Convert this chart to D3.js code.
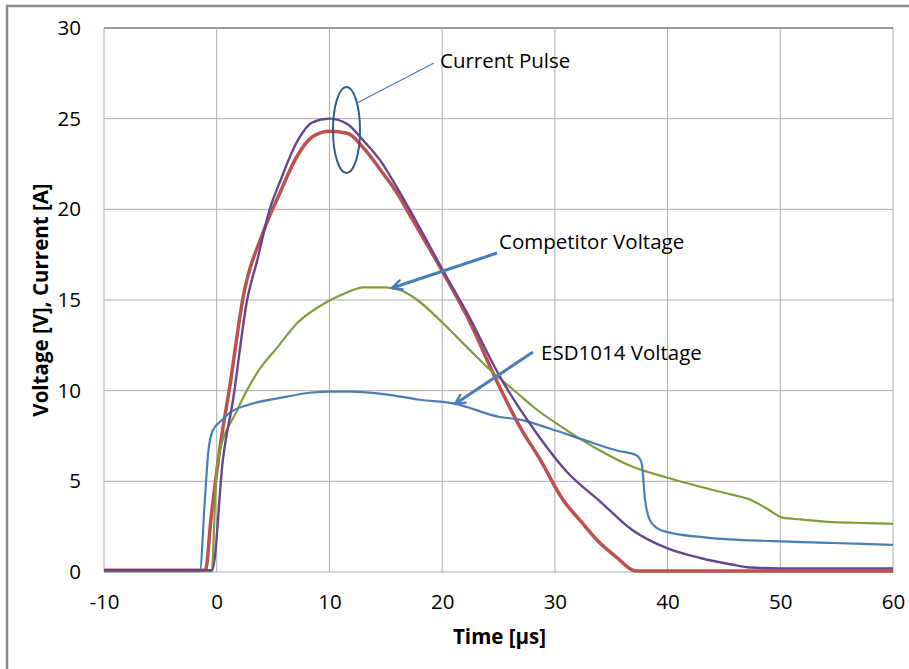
<!DOCTYPE html>
<html>
<head>
<meta charset="utf-8">
<script src="https://cdn.jsdelivr.net/npm/d3@7/dist/d3.min.js"></script>
<style>
  body { margin: 0; background: #fff; }
  svg { display: block; font-family: "Open Sans", sans-serif; }
</style>
</head>
<body>
<svg id="chart" width="909" height="669"></svg>
<script>
// values (time in µs, value in V or A)
const xTicks = [-10, 0, 10, 20, 30, 40, 50, 60];
const yTicks = [0, 5, 10, 15, 20, 25, 30];

const esdTime = [-10, -1.5, -1.05, -0.75, -0.35, 0.5, 1.2, 2.7, 5.6, 8.5, 10, 12, 15, 18, 21, 25.1, 26.9, 29.6, 32.5, 35.5, 37.2, 37.7, 38.0, 38.4, 39, 40, 43.5, 49.4, 54.7, 60];
const esdVolt = [0.05, 0.05, 4.0, 6.6, 7.8, 8.4, 8.8, 9.2, 9.6, 9.9, 9.95, 9.95, 9.8, 9.5, 9.3, 8.55, 8.4, 7.9, 7.3, 6.7, 6.45, 6.0, 4.0, 2.9, 2.45, 2.2, 1.9, 1.7, 1.6, 1.5];

const compTime = [-10, -0.45, 0.0, 0.1, 1.8, 3.6, 5.4, 7.1, 9.8, 11.5, 13, 15, 16.5, 17.8, 20.1, 22.2, 24.5, 26.6, 28.1, 31.1, 34, 36.9, 40, 42.9, 45.8, 47.3, 48.8, 50.2, 51.8, 54.7, 57.7, 60];
const compVolt = [0.05, 0.05, 5.8, 6.2, 8.9, 11.0, 12.4, 13.7, 14.9, 15.4, 15.7, 15.7, 15.5, 15.0, 13.7, 12.4, 11.0, 9.9, 9.1, 7.8, 6.7, 5.8, 5.2, 4.7, 4.25, 4.0, 3.5, 3.0, 2.9, 2.75, 2.7, 2.65];

const curATime = [-10, -1.0, -0.5, 0.3, 1.2, 2.3, 4.1, 5.6, 7.1, 8.5, 10, 11.6, 13, 14.5, 16, 17.4, 20.1, 22.2, 25.1, 26.9, 28.7, 30.7, 32.3, 34, 35.5, 36.9, 37.3, 60];
const curAVal = [0.1, 0.1, 3.0, 6.9, 10.4, 15.0, 18.7, 20.9, 22.9, 24.0, 24.3, 24.2, 23.4, 22.2, 20.9, 19.4, 16.5, 14.1, 10.2, 8.0, 6.2, 4.0, 2.8, 1.6, 0.8, 0.1, 0.05, 0.05];

const curBTime = [-10, -0.4, 0.55, 1.45, 2.7, 3.6, 4.7, 5.6, 7.1, 8.5, 10, 11.6, 13, 14.5, 16, 18, 20.1, 22.2, 25.1, 28.1, 31.1, 34, 36.9, 40, 42.9, 45.8, 47.3, 50, 55, 60];
const curBVal = [0.1, 0.1, 6.2, 9.5, 15.0, 17.2, 20.0, 21.5, 23.7, 24.8, 25.0, 24.7, 23.8, 22.7, 21.2, 19.0, 16.6, 14.3, 10.8, 7.9, 5.5, 3.9, 2.3, 1.3, 0.77, 0.4, 0.25, 0.2, 0.2, 0.2];

const svg = d3.select('#chart');

// outer chart border
svg.append('rect')
  .attr('x', 7).attr('y', 6).attr('width', 930).attr('height', 700)
  .attr('fill', 'none').attr('stroke', '#8c8c8c').attr('stroke-width', 2.5);

const margin = { top: 28, right: 16, bottom: 97, left: 104 };
const width = 909, height = 669;

const x = d3.scaleLinear().domain([-10, 60]).range([margin.left, width - margin.right]);
const y = d3.scaleLinear().domain([0, 30]).range([height - margin.bottom, margin.top]);

// gridlines
svg.append('g')
  .selectAll('line')
  .data(yTicks)
  .join('line')
  .attr('x1', x(-10)).attr('x2', x(60))
  .attr('y1', d => y(d)).attr('y2', d => y(d))
  .attr('stroke', d => d === 30 ? '#7a7a7a' : '#ababab')
  .attr('stroke-width', d => d === 30 ? 1.5 : 1);

svg.append('g')
  .selectAll('line')
  .data(xTicks)
  .join('line')
  .attr('x1', d => x(d)).attr('x2', d => x(d))
  .attr('y1', y(0)).attr('y2', y(30))
  .attr('stroke', '#ababab');

// axes labels (Excel style, no tick marks)
const xAxis = svg.append('g')
  .attr('transform', `translate(0,${y(0)})`)
  .call(d3.axisBottom(x).tickValues(xTicks).tickSize(0).tickPadding(22).tickFormat(d => String(d)));
xAxis.select('.domain').remove();
xAxis.selectAll('text').style('font-size', '20.5px').attr('fill', '#000').style('font-family', '"Open Sans", sans-serif');

const yAxis = svg.append('g')
  .attr('transform', `translate(${x(-10)},0)`)
  .call(d3.axisLeft(y).tickValues(yTicks).tickSize(0).tickPadding(23).tickFormat(d => String(d)));
yAxis.select('.domain').remove();
yAxis.selectAll('text').style('font-size', '20.5px').attr('fill', '#000').style('font-family', '"Open Sans", sans-serif');

svg.append('text')
  .attr('x', (x(-10) + x(60)) / 2 + 1)
  .attr('y', 644)
  .attr('text-anchor', 'middle')
  .style('font-size', '20.5px')
  .style('font-weight', 'bold')
  .text('Time [µs]');

svg.append('text')
  .attr('transform', 'rotate(-90)')
  .attr('x', -300)
  .attr('y', 48)
  .attr('text-anchor', 'middle')
  .style('font-size', '20.5px')
  .style('font-weight', 'bold')
  .text('Voltage [V], Current [A]');

// series
const line = d3.line()
  .x(d => x(d[0]))
  .y(d => y(d[1]))
  .curve(d3.curveMonotoneX);

const series = [
  { t: curATime, v: curAVal, color: '#C0504D', w: 3.5 },
  { t: compTime, v: compVolt, color: '#7E9E3A', w: 2.2 },
  { t: esdTime, v: esdVolt, color: '#4A7EBB', w: 2.2 },
  { t: curBTime, v: curBVal, color: '#65478F', w: 2.4 }
];

svg.append('g')
  .selectAll('path')
  .data(series)
  .join('path')
  .attr('d', s => line(s.t.map((t, i) => [t, s.v[i]])))
  .attr('fill', 'none')
  .attr('stroke', s => s.color)
  .attr('stroke-width', s => s.w)
  .attr('stroke-linejoin', 'round');

// annotations
const defs = svg.append('defs');
defs.append('marker')
  .attr('id', 'arrow')
  .attr('viewBox', '0 0 10 10')
  .attr('refX', 9).attr('refY', 5)
  .attr('markerWidth', 4).attr('markerHeight', 4)
  .attr('orient', 'auto')
  .append('path')
  .attr('d', 'M1,1 L9,5 L1,9')
  .attr('fill', 'none')
  .attr('stroke', '#4A7EBB')
  .attr('stroke-width', 2)
  .attr('stroke-linecap', 'round')
  .attr('stroke-linejoin', 'round');

svg.append('ellipse')
  .attr('cx', 346.5).attr('cy', 130)
  .attr('rx', 13.5).attr('ry', 43)
  .attr('fill', 'none')
  .attr('stroke', '#2E5F8A')
  .attr('stroke-width', 2);

svg.append('line')
  .attr('x1', 357).attr('y1', 103)
  .attr('x2', 434).attr('y2', 63)
  .attr('stroke', '#4A7EBB').attr('stroke-width', 1.3);

svg.append('line')
  .attr('x1', 497).attr('y1', 253)
  .attr('x2', 392).attr('y2', 288)
  .attr('stroke', '#4A7EBB').attr('stroke-width', 3)
  .attr('marker-end', 'url(#arrow)');

svg.append('line')
  .attr('x1', 533).attr('y1', 352)
  .attr('x2', 455).attr('y2', 404)
  .attr('stroke', '#4A7EBB').attr('stroke-width', 3)
  .attr('marker-end', 'url(#arrow)');

const notes = [
  { text: 'Current Pulse', x: 440, y: 68 },
  { text: 'Competitor Voltage', x: 499, y: 249 },
  { text: 'ESD1014 Voltage', x: 541, y: 360 }
];
svg.append('g')
  .selectAll('text')
  .data(notes)
  .join('text')
  .attr('x', d => d.x).attr('y', d => d.y)
  .style('font-size', '20.5px')
  .text(d => d.text);
</script>
</body>
</html>
